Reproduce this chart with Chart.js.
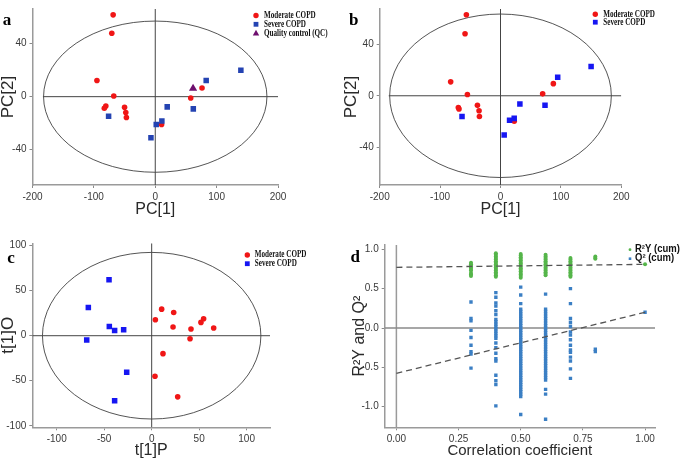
<!DOCTYPE html>
<html>
<head>
<meta charset="utf-8">
<script src="https://cdn.jsdelivr.net/npm/chart.js@4.4.1/dist/chart.umd.min.js"></script>
<style>
  html, body { margin: 0; padding: 0; background: #fff; }
  #fig { position: relative; width: 684px; height: 461px; overflow: hidden; }
  .panel { position: absolute; }
</style>
</head>
<body>
<div id="fig">
  <div class="panel" style="left:0;top:0;width:342px;height:230px"><canvas id="chartA"></canvas></div>
  <div class="panel" style="left:342px;top:0;width:342px;height:230px"><canvas id="chartB"></canvas></div>
  <div class="panel" style="left:0;top:230px;width:342px;height:231px"><canvas id="chartC"></canvas></div>
  <div class="panel" style="left:342px;top:230px;width:342px;height:231px"><canvas id="chartD"></canvas></div>
</div>
<script>
// panel a - PCA incl. QC
const aModX = [-68.6, -70.8, -95, -67.6, -80.5, -83, -50, -48, -47, 10.3, 57.8, 76.2];
const aModY = [61.7, 47.8, 12.2, 0.5, -7, -8.7, -8, -12, -15.7, -21, -1, 6.5];
const aSevX = [-76, -7, 1.6, 10.8, 19.5, 62, 83, 139.5];
const aSevY = [-14.7, -31, -21, -18.4, -7.7, -9.2, 12.2, 20];
const aQcX = [61.6];
const aQcY = [6.2];

// panel b - PCA
const bModX = [-56.5, -58.7, -82.5, -54.8, -69.8, -68.7, -38.2, -35.5, -34.9, 22.7, 69.8, 87.5];
const bModY = [62.8, 48, 10.8, 1, -9.1, -10.3, -7.4, -11.6, -16, -19.7, 1.5, 9.4];
const bSevX = [-63.7, 6.1, 15, 22.7, 32.1, 73.7, 94.7, 150];
const bSevY = [-16, -30.3, -19, -17.5, -6.4, -7.4, 14.3, 22.7];

// panel c - OPLS-DA scores
const cModX = [10.5, 3.9, 23.2, 22.5, 41.4, 40.4, 51.9, 54.7, 65.3, 11.9, 3.5, 27.4];
const cModY = [29.5, 17.7, 25.8, 9.6, 7.4, -3.3, 14.8, 18.8, 8.5, -19.9, -45, -67.9];
const cSevX = [-44.9, -66.7, -44.6, -39, -29.5, -68.4, -26.3, -39];
const cSevY = [62, 31.4, 10.3, 5.9, 6.6, -4.8, -40.6, -72.3];

// panel d - permutation test, one list per correlation coefficient
const permX = [0.3, 0.4, 0.5, 0.6, 0.7, 0.8, 1.0];
const r2yCols = [
  [0.83, 0.81, 0.79, 0.77, 0.75, 0.73, 0.70, 0.68, 0.66],
  [0.95, 0.93, 0.91, 0.89, 0.87, 0.85, 0.83, 0.81, 0.79, 0.77, 0.75, 0.73, 0.71, 0.69, 0.67, 0.65],
  [0.94, 0.92, 0.90, 0.88, 0.86, 0.84, 0.82, 0.80, 0.78, 0.76, 0.74, 0.72, 0.70, 0.68, 0.66, 0.64],
  [0.93, 0.91, 0.89, 0.87, 0.85, 0.83, 0.81, 0.79, 0.77, 0.75, 0.73, 0.71, 0.69, 0.67],
  [0.89, 0.87, 0.85, 0.83, 0.81, 0.79, 0.77, 0.75, 0.73, 0.71, 0.69, 0.67, 0.65],
  [0.91, 0.89, 0.88],
  [0.81]
];
const q2Cols = [
  [0.33, 0.12, 0.09, -0.03, -0.12, -0.22, -0.30, -0.33, -0.51],
  [0.45, 0.39, 0.32, 0.28, 0.22, 0.17, 0.11, 0.08, 0.05, 0.02, -0.01, -0.04, -0.07, -0.10, -0.13, -0.19, -0.25, -0.32, -0.39, -0.42, -0.60, -0.67, -0.72, -0.99],
  [0.52, 0.42, 0.31, 0.24, 0.21, 0.18, 0.15, 0.12, 0.09, 0.06, 0.03, 0.00, -0.03, -0.06, -0.09, -0.12, -0.15, -0.18, -0.21, -0.24, -0.27, -0.30, -0.33, -0.36, -0.39, -0.42, -0.45, -0.48, -0.51, -0.54, -0.57, -0.60, -0.63, -0.66, -0.69, -0.72, -0.75, -0.78, -0.81, -0.84, -0.87, -1.10],
  [0.43, 0.24, 0.21, 0.18, 0.15, 0.12, 0.09, 0.06, 0.03, 0.00, -0.03, -0.06, -0.09, -0.12, -0.15, -0.18, -0.21, -0.24, -0.27, -0.30, -0.33, -0.36, -0.39, -0.42, -0.45, -0.48, -0.51, -0.54, -0.57, -0.60, -0.63, -0.66, -0.78, -0.84, -1.16],
  [0.50, 0.31, 0.12, 0.07, 0.02, -0.05, -0.09, -0.15, -0.22, -0.28, -0.31, -0.37, -0.42, -0.52, -0.64],
  [-0.27, -0.30],
  [0.20]
];
const fitX = [0, 1];
const r2yFit = [0.771, 0.809];
const q2Fit = [-0.576, 0.2];

// tick labels
const pcXTicks = [-200, -100, 0, 100, 200];
const pcYTicks = [-40, 0, 40];
const oplsTicks = [-100, -50, 0, 50, 100];
const permXTicks = [0, 0.25, 0.5, 0.75, 1.0];
const permYTicks = [-1.0, -0.5, 0, 0.5, 1.0];

const RED = "#f01616";
const BLUE_A = "#2443b2";
const BLUE = "#1616f2";
const PURPLE = "#6e0f6e";
const GREEN = "#55b54a";
const STEEL = "#3b7fc4";

const zip = (xs, ys) => xs.map((x, i) => ({ x: x, y: ys[i] }));
const col = (x, ys) => ys.map((y) => ({ x: x, y: y }));

function pointSet(data, color, style, r, order) {
  return {
    data: data, backgroundColor: color, borderColor: color, borderWidth: 0,
    pointStyle: style, pointRadius: r, pointHoverRadius: r, showLine: false, order: order
  };
}
function lineSet(data, color, width, dash, order) {
  return {
    data: data, borderColor: color, borderWidth: width, borderDash: dash || [],
    showLine: true, pointRadius: 0, fill: false, tension: 0, order: order
  };
}

function axis(o) {
  return {
    type: "linear", min: o.min, max: o.max,
    afterBuildTicks: (s) => { s.ticks = o.ticks.map((v) => ({ value: v })); },
    afterFit: (s) => { if (o.isX) s.height = o.size; else s.width = o.size; },
    grid: { display: true, drawOnChartArea: false, drawTicks: true, tickLength: 3, tickColor: "#8a8a8a", tickWidth: 1 },
    border: { display: true, color: "#9a9a9a", width: 1.5 },
    ticks: {
      autoSkip: false, maxRotation: 0, padding: 3, color: "#3a3a3a",
      font: { family: "'Liberation Sans', Arial, sans-serif", size: 10 },
      callback: o.fmt || ((v) => String(v))
    },
    title: {
      display: true, text: o.title, color: "#2a2a2a",
      font: { family: "'Liberation Sans', Arial, sans-serif", size: o.titleSize || 16, lineHeight: 1 },
      padding: o.isX ? { top: 0, bottom: o.titlePad } : { top: o.titlePad, bottom: 0 }
    }
  };
}

function drawMarker(ctx, style, x, y, r, color) {
  ctx.fillStyle = color;
  ctx.beginPath();
  if (style === "circle") ctx.arc(x, y, r, 0, Math.PI * 2);
  else if (style === "rect") ctx.rect(x - r, y - r, 2 * r, 2 * r);
  else {
    ctx.moveTo(x, y - r * 1.15);
    ctx.lineTo(x + r * 1.1, y + r * 0.8);
    ctx.lineTo(x - r * 1.1, y + r * 0.8);
    ctx.closePath();
  }
  ctx.fill();
}

// ellipse, legend and panel letter
const decor = {
  id: "decor",
  beforeDatasetsDraw(chart, args, opts) {
    if (!opts.ellipse) return;
    const xs = chart.scales.x, ys = chart.scales.y, ctx = chart.ctx;
    const cx = xs.getPixelForValue(0), cy = ys.getPixelForValue(0);
    const rx = xs.getPixelForValue(opts.ellipse[0]) - cx;
    const ry = cy - ys.getPixelForValue(opts.ellipse[1]);
    ctx.save();
    ctx.strokeStyle = "#2a2a2a";
    ctx.lineWidth = 0.8;
    ctx.beginPath();
    ctx.ellipse(cx, cy, rx, ry, 0, 0, Math.PI * 2);
    ctx.stroke();
    ctx.restore();
  },
  afterDraw(chart, args, opts) {
    const ctx = chart.ctx;
    ctx.save();
    ctx.textBaseline = "middle";
    opts.legend.forEach((it, i) => {
      const y = opts.legendY + i * opts.legendStep;
      drawMarker(ctx, it.style, opts.legendX, y, it.r, it.color);
      ctx.save();
      ctx.translate(opts.legendX + opts.textGap, y);
      ctx.scale(opts.textScale, 1);
      ctx.fillStyle = "#111";
      ctx.textAlign = "left";
      ctx.font = opts.legendFont;
      ctx.fillText(it.text, 0, 0);
      ctx.restore();
    });
    ctx.fillStyle = "#000";
    ctx.textAlign = "center";
    ctx.font = "bold 17px 'Liberation Serif', 'Times New Roman', serif";
    ctx.fillText(opts.letter, opts.letterX, opts.letterY);
    ctx.restore();
  }
};

const serifLegend = "bold 9.5px 'Liberation Serif', 'Times New Roman', serif";

function makeChart(id, datasets, xAx, yAx, pad, decorOpts) {
  return new Chart(document.getElementById(id), {
    type: "scatter",
    data: { datasets: datasets },
    options: {
      responsive: true, maintainAspectRatio: false, animation: false, events: [],
      layout: { padding: pad },
      scales: { x: axis(xAx), y: axis(yAx) },
      plugins: { legend: { display: false }, tooltip: { enabled: false }, decor: decorOpts }
    },
    plugins: [decor]
  });
}

// a
makeChart("chartA", [
  pointSet(zip(aQcX, aQcY), PURPLE, "triangle", 4.8, 1),
  pointSet(zip(aSevX, aSevY), BLUE_A, "rect", 3.9, 2),
  pointSet(zip(aModX, aModY), RED, "circle", 2.8, 3),
  lineSet(zip([-183, 200], [0, 0]), "#444", 1, null, 9),
  lineSet(zip([0, 0], [-66.6, 66.1]), "#444", 1, null, 9)
],
  { isX: true, min: -200, max: 200, ticks: pcXTicks, size: 45, title: "PC[1]", titlePad: 12 },
  { min: -66.6, max: 66.1, ticks: pcYTicks, size: 32.5, title: "PC[2]", titleSize: 17, titlePad: 0 },
  { left: 0, top: 7, right: 64, bottom: 0 },
  {
    ellipse: [182, 57], letter: "a", letterX: 7, letterY: 21,
    legendX: 256, legendY: 15.5, legendStep: 8.8, textGap: 8, textScale: 0.75, legendFont: serifLegend,
    legend: [
      { text: "Moderate COPD", color: RED, style: "circle", r: 2.7 },
      { text: "Severe COPD", color: BLUE_A, style: "rect", r: 2.4 },
      { text: "Quality control (QC)", color: PURPLE, style: "triangle", r: 2.9 }
    ]
  });

// b
makeChart("chartB", [
  pointSet(zip(bSevX, bSevY), BLUE, "rect", 3.9, 2),
  pointSet(zip(bModX, bModY), RED, "circle", 2.8, 3),
  lineSet(zip([-185, 200], [0, 0]), "#444", 1, null, 9),
  lineSet(zip([0, 0], [-69.1, 67.2]), "#444", 1, null, 9)
],
  { isX: true, min: -200, max: 200, ticks: pcXTicks, size: 45, title: "PC[1]", titlePad: 12.7 },
  { min: -69.1, max: 67.2, ticks: pcYTicks, size: 37.7, title: "PC[2]", titleSize: 17, titlePad: 0.8 },
  { left: 0, top: 1, right: 62.7, bottom: 0 },
  {
    ellipse: [183.5, 63.3], letter: "b", letterX: 11.7, letterY: 21,
    legendX: 253.3, legendY: 14.3, legendStep: 7.9, textGap: 8, textScale: 0.75, legendFont: serifLegend,
    legend: [
      { text: "Moderate COPD", color: RED, style: "circle", r: 2.7 },
      { text: "Severe COPD", color: BLUE, style: "rect", r: 2.4 }
    ]
  });

// c
makeChart("chartC", [
  pointSet(zip(cSevX, cSevY), BLUE, "rect", 3.9, 2),
  pointSet(zip(cModX, cModY), RED, "circle", 2.8, 3),
  lineSet(zip([-125.7, 124.6], [0, 0]), "#444", 1, null, 9),
  lineSet(zip([0, 0], [-101.7, 102.6]), "#444", 1, null, 9)
],
  { isX: true, min: -125.7, max: 124.6, ticks: oplsTicks, size: 33.7, title: "t[1]P", titlePad: 2.3 },
  { min: -101.7, max: 102.6, ticks: oplsTicks, size: 32.3, title: "t[1]O", titleSize: 17, titlePad: 0 },
  { left: 0, top: 13.3, right: 72, bottom: 0 },
  {
    ellipse: [115, 92.5], letter: "c", letterX: 11, letterY: 28.5,
    legendX: 247.3, legendY: 25, legendStep: 8.7, textGap: 7.5, textScale: 0.75, legendFont: serifLegend,
    legend: [
      { text: "Moderate COPD", color: RED, style: "circle", r: 2.7 },
      { text: "Severe COPD", color: BLUE, style: "rect", r: 2.4 }
    ]
  });

// d
const r2yPts = permX.flatMap((x, i) => col(x, r2yCols[i]));
const q2Pts = permX.flatMap((x, i) => col(x, q2Cols[i]));
makeChart("chartD", [
  lineSet(zip(fitX, r2yFit), "#555", 1.3, [6, 4], 0),
  lineSet(zip(fitX, q2Fit), "#555", 1.3, [6, 4], 0),
  pointSet(r2yPts, GREEN, "circle", 2, 1),
  pointSet(q2Pts, STEEL, "rect", 2.4, 1),
  lineSet(zip([-0.047, 1.04], [0, 0]), "#8a8a8a", 1.5, null, 9),
  lineSet(zip([0, 0], [-1.262, 1.055]), "#9a9a9a", 1.5, null, 9)
],
  { isX: true, min: -0.047, max: 1.04, ticks: permXTicks, size: 33.7, title: "Correlation coefficient", titleSize: 15, titlePad: 2.8, fmt: (v) => v.toFixed(2) },
  { min: -1.262, max: 1.055, ticks: permYTicks, size: 42.7, title: "R\u00b2Y and Q\u00b2", titleSize: 16, titlePad: 9.3, fmt: (v) => v.toFixed(1) },
  { left: 0, top: 15, right: 29, bottom: 0 },
  {
    letter: "d", letterX: 13.3, letterY: 27.5,
    legendX: 288, legendY: 19.7, legendStep: 9, textGap: 5, textScale: 0.95,
    legendFont: "bold 10px 'Liberation Sans', Arial, sans-serif",
    legend: [
      { text: "R\u00b2Y (cum)", color: GREEN, style: "circle", r: 1.4 },
      { text: "Q\u00b2 (cum)", color: STEEL, style: "rect", r: 1.3 }
    ]
  });
</script>
</body>
</html>
